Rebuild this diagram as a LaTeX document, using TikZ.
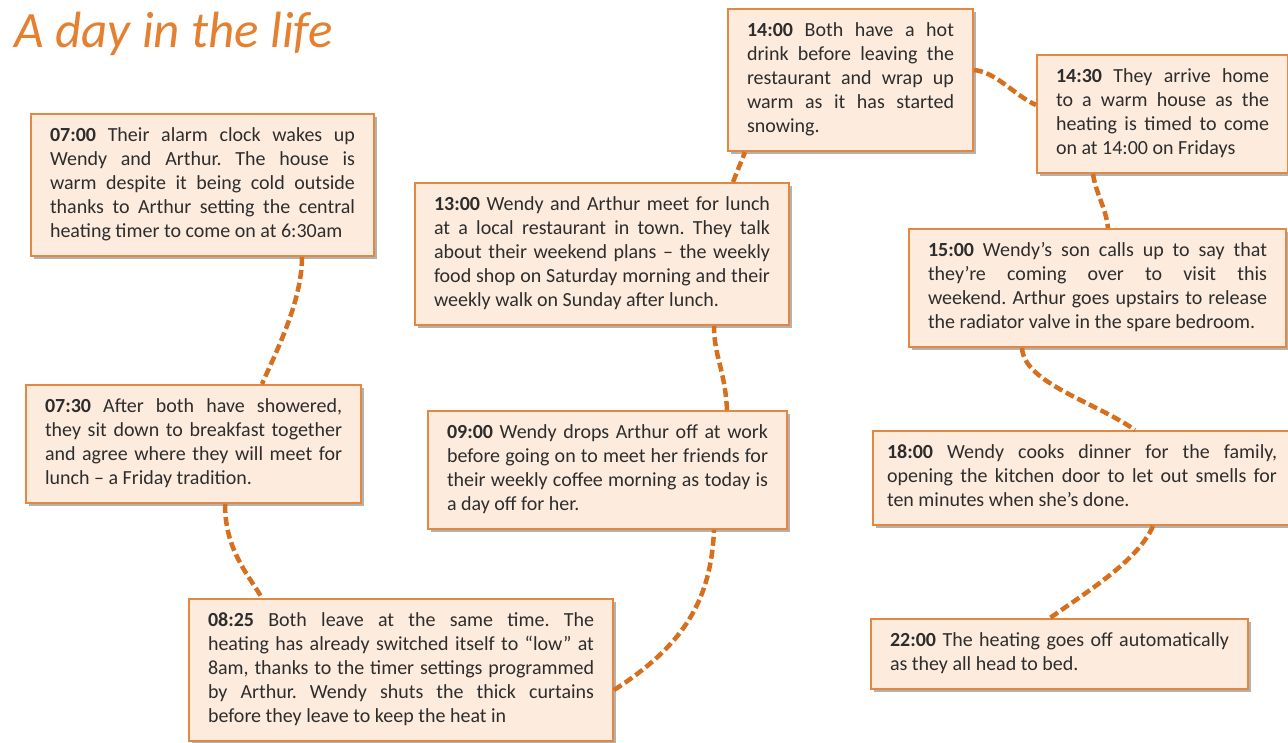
\documentclass[tikz,border=0pt]{standalone}
\usepackage{fontspec}
\setmainfont{Carlito}
\usetikzlibrary{shadows}

\definecolor{boxfill}{RGB}{253,236,222}
\definecolor{boxline}{RGB}{226,136,64}
\definecolor{linkcol}{RGB}{214,112,30}
\definecolor{titlecol}{RGB}{228,128,48}
\definecolor{bodytext}{RGB}{45,45,45}

\tikzset{
  event/.style={draw=boxline, line width=2pt, fill=boxfill, anchor=north west,
    inner xsep=19pt, inner ysep=11pt, align=justify, text=bodytext,
    font=\fontsize{20}{24}\selectfont,
    drop shadow={shadow xshift=2.5pt, shadow yshift=-2.5pt, fill=black, opacity=0.3}},
  link/.style={draw=linkcol, line width=4.5pt, dash pattern=on 9pt off 4pt},
  heading/.style={anchor=base west, inner sep=0pt, text=titlecol,
    font=\fontsize{51}{60}\selectfont\itshape}
}
\newcommand\evt[2]{\tolerance=10000\relax\hyphenpenalty=10000\relax\frenchspacing
  \strut\textbf{#1} #2\strut}

\begin{document}
\begin{tikzpicture}[x=1pt, y=-1pt]
\useasboundingbox (0,0) rectangle (1288,742);

\node[heading] (title) at (14,47) {A day in the life};

% timeline boxes
\node[event, text width=305pt] (n0700) at (30,113) {\evt{07:00}{Their alarm clock wakes up\linebreak
  Wendy and Arthur. The house is\linebreak
  warm despite it being cold outside\linebreak
  thanks to Arthur setting the central\linebreak
  heating timer to come on at 6:30am}};

\node[event, text width=297pt] (n0730) at (25,384) {\evt{07:30}{After both have showered,\linebreak
  they sit down to breakfast together\linebreak
  and agree where they will meet for\linebreak
  lunch – a Friday tradition.}};

\node[event, text width=386pt] (n0825) at (188,598) {\evt{08:25}{Both leave at the same time. The\linebreak
  heating has already switched itself to “low” at\linebreak
  8am, thanks to the timer settings programmed\linebreak
  by Arthur. Wendy shuts the thick curtains\linebreak
  before they leave to keep the heat in}};

\node[event, text width=321pt] (n0900) at (427,410) {\evt{09:00}{Wendy drops Arthur off at work\linebreak
  before going on to meet her friends for\linebreak
  their weekly coffee morning as today is\linebreak
  a day off for her.}};

\node[event, text width=336pt] (n1300) at (414,182) {\evt{13:00}{Wendy and Arthur meet for lunch\linebreak
  at a local restaurant in town. They talk\linebreak
  about their weekend plans – the weekly\linebreak
  food shop on Saturday morning and their\linebreak
  weekly walk on Sunday after lunch.}};

\node[event, text width=207pt] (n1400) at (727,8) {\evt{14:00}{Both have a hot\linebreak
  drink before leaving the\linebreak
  restaurant and wrap up\linebreak
  warm as it has started\linebreak
  snowing.}};

\node[event, text width=213pt] (n1430) at (1036,54) {\evt{14:30}{They arrive home\linebreak
  to a warm house as the\linebreak
  heating is timed to come\linebreak
  on at 14:00 on Fridays}};

\node[event, text width=339pt] (n1500) at (908,228) {\evt{15:00}{Wendy’s son calls up to say that\linebreak
  they’re coming over to visit this\linebreak
  weekend. Arthur goes upstairs to release\linebreak
  the radiator valve in the spare bedroom.}};

\node[event, text width=390pt, inner xsep=14pt] (n1800) at (872,430) {\evt{18:00}{Wendy cooks dinner for the family,\linebreak
  opening the kitchen door to let out smells for\linebreak
  ten minutes when she’s done.}};

\node[event, text width=339pt] (n2200) at (870,618) {\evt{22:00}{The heating goes off automatically\linebreak
  as they all head to bed.}};

% dashed links between consecutive times
\draw[link] ([xshift=272pt]n0700.south west) .. controls +(0,45) and +(13,-30) .. ([xshift=237pt]n0730.north west);
\draw[link] ([xshift=200pt]n0730.south west) .. controls +(0,45) and +(-15,-25) .. ([xshift=74pt]n0825.north west);
\draw[link] ([yshift=-92pt]n0825.north east) .. controls +(70,-45) and +(-3,70) .. ([xshift=287pt]n0900.south west);
\draw[link] ([xshift=300pt]n0900.north west) .. controls +(-2,-40) and +(0,30) .. ([xshift=300pt]n1300.south west);
\draw[link] ([xshift=319pt]n1300.north west) -- ([xshift=18pt]n1400.south west);
\draw[link] ([yshift=-62pt]n1400.north east) .. controls +(22,2) and +(-22,-10) .. ([yshift=-51pt]n1430.north west);
\draw[link] ([xshift=57pt]n1430.south west) .. controls +(3,20) and +(-2,-20) .. ([xshift=200pt]n1500.north west);
\draw[link] ([xshift=114pt]n1500.south west) .. controls +(2,35) and +(-40,-28) .. ([xshift=263pt]n1800.north west);
\draw[link] ([xshift=281pt]n1800.south west) .. controls +(-15,35) and +(35,-25) .. ([xshift=180pt]n2200.north west);
\end{tikzpicture}
\end{document}
